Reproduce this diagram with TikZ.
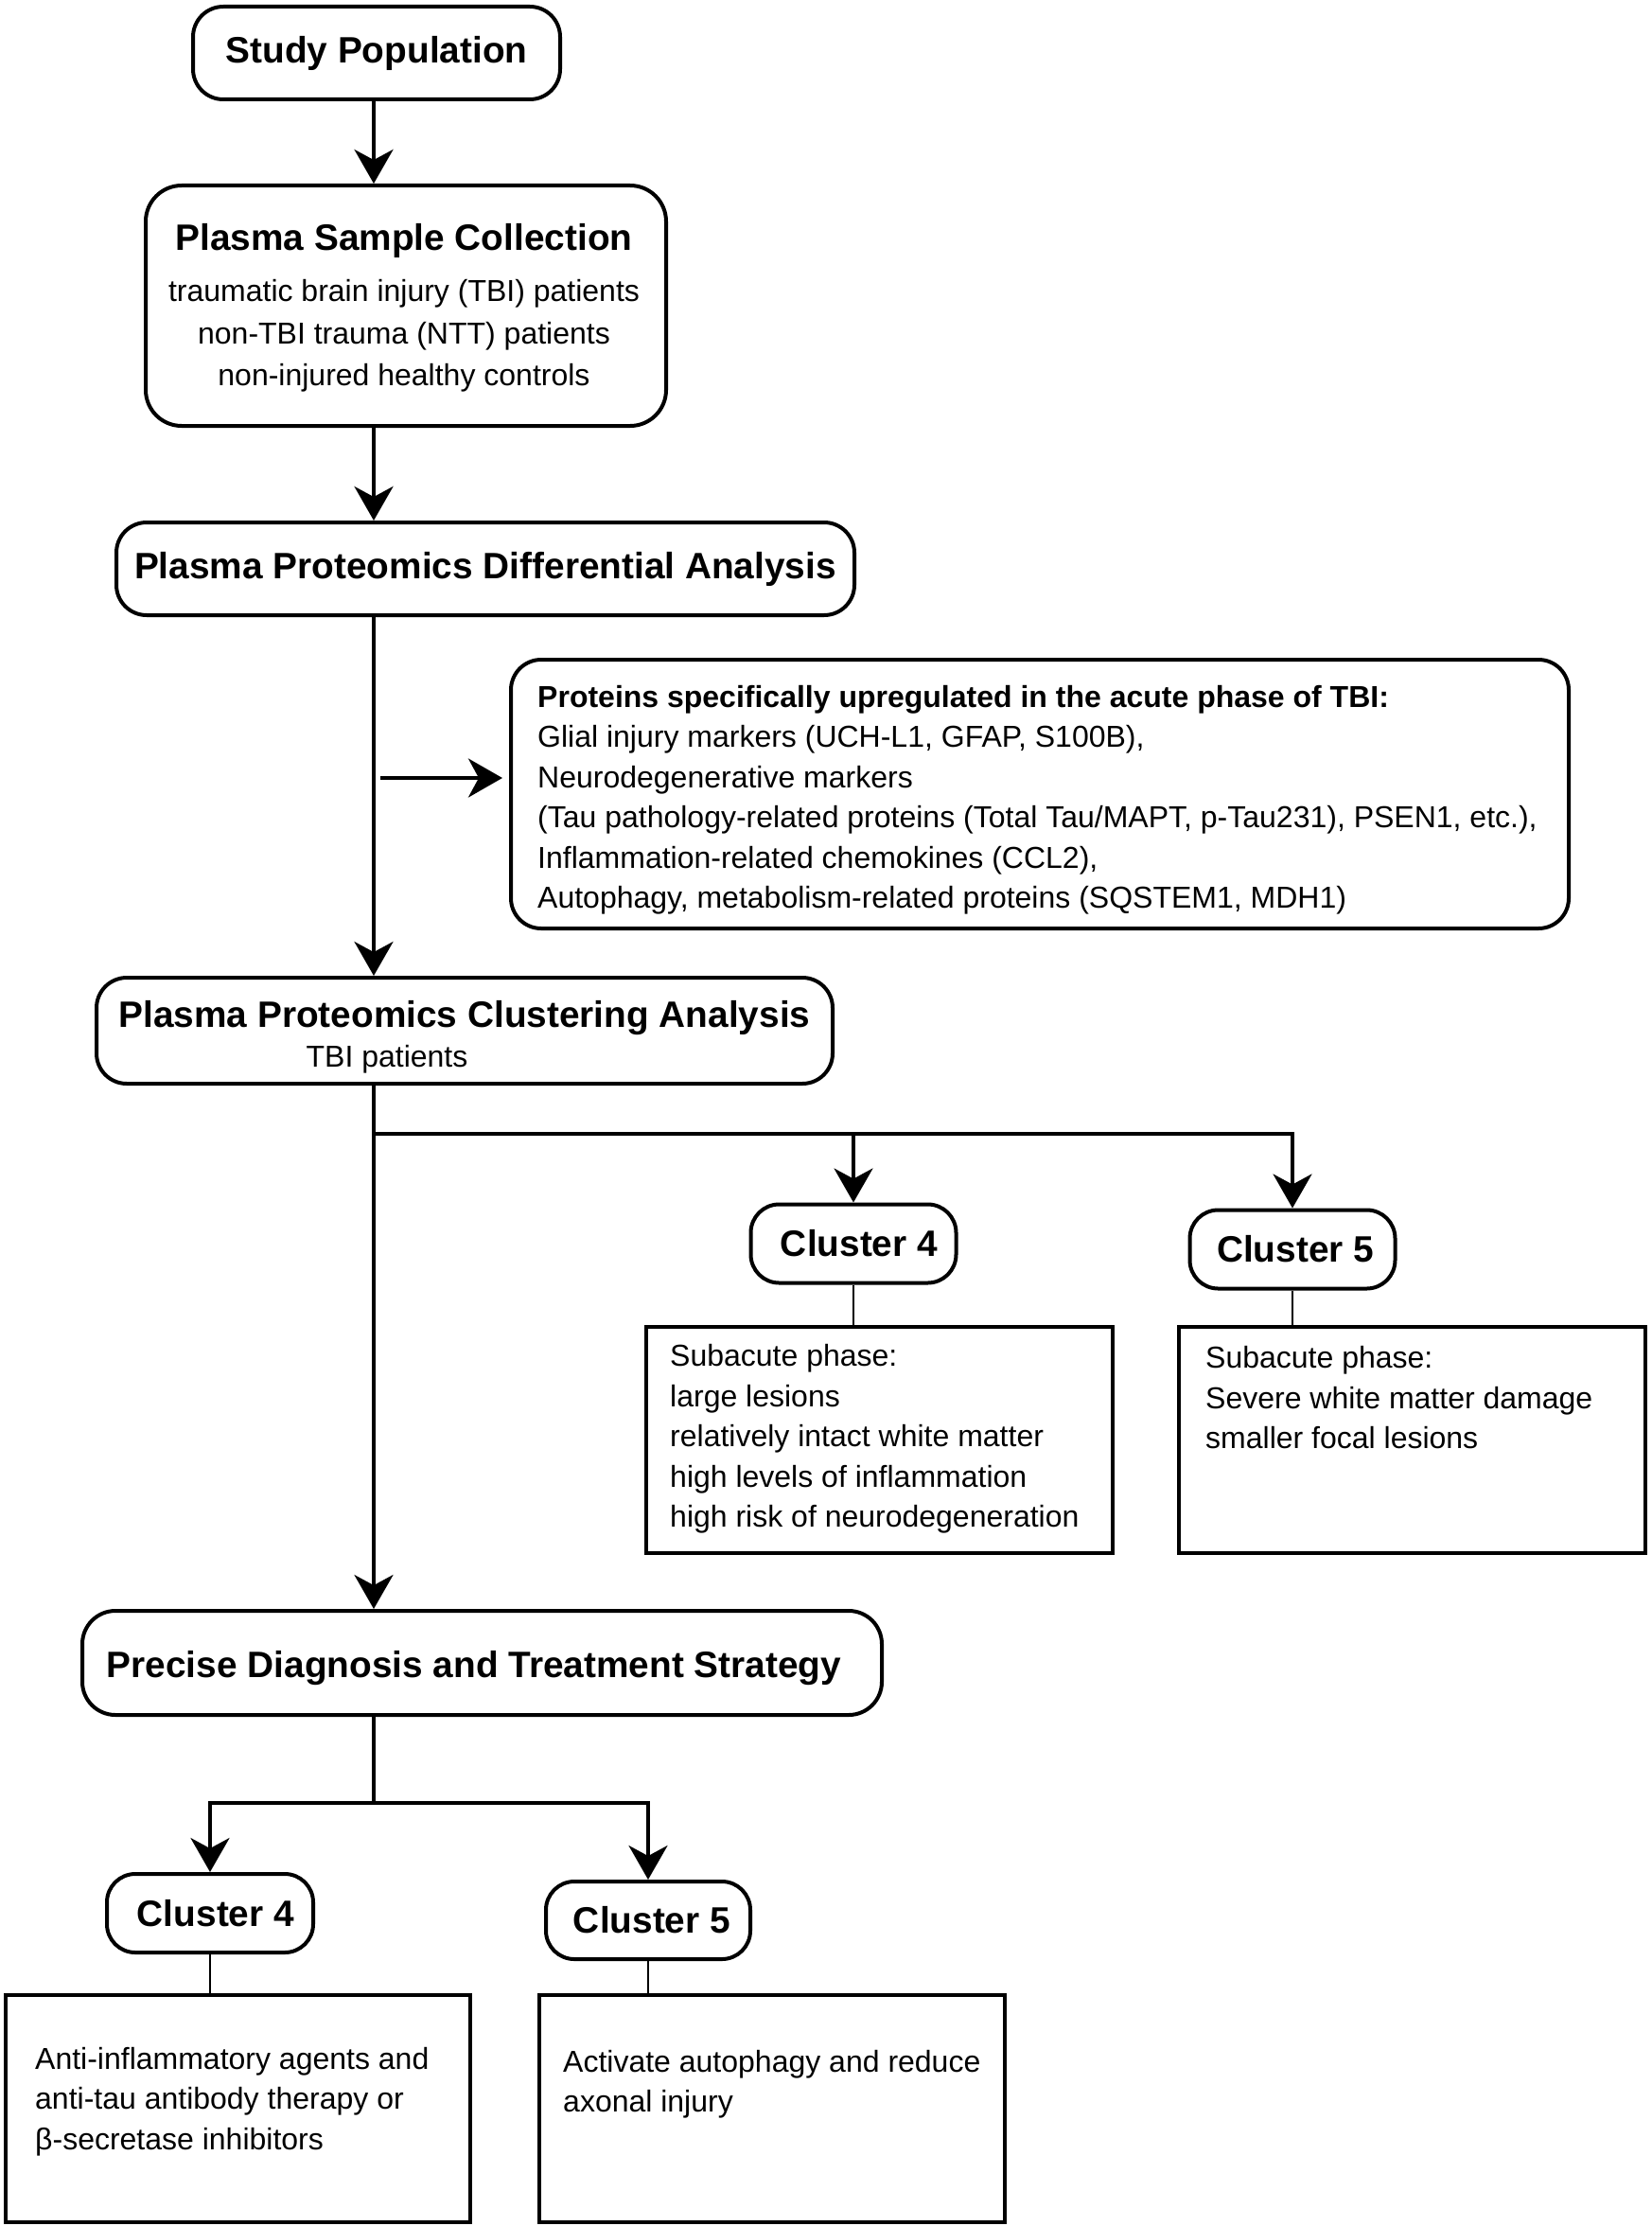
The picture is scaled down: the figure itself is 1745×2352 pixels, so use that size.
\documentclass[tikz,border=0pt]{standalone}
\usepackage{fontspec}
\setmainfont{Liberation Sans}
\usetikzlibrary{arrows.meta,calc}
\newcommand\mytitle{\fontsize{38.8pt}{46pt}\selectfont\bfseries}
\newcommand\mybody{\fontsize{32pt}{42.4pt}\selectfont}
\begin{document}
\begin{tikzpicture}[x=1pt,y=-1pt,
  rbox/.style={draw, line width=4pt, rounded corners=32pt, inner sep=0pt, align=center},
  pill/.style={rbox, rounded corners=30pt, minimum width=217pt, minimum height=83pt, font=\mytitle},
  sbox/.style={draw, line width=4pt, inner sep=0pt},
  txt/.style={inner sep=0pt, align=left, anchor=base west, font=\mybody},
  arr/.style={line width=4pt, -{Stealth[length=36pt,width=41pt,inset=11pt]}},
  conn/.style={line width=4pt},
  link/.style={line width=2.5pt}]
\useasboundingbox (0,0) rectangle (1745,2352);
\coordinate (spine) at (395,0);

% boxes (multi-line text nodes are anchored at the baseline of their last line)
\node[rbox, minimum width=388pt, minimum height=98pt, font=\mytitle] (sp) at (398,56) {Study Population};
\node[rbox, rounded corners=38pt, minimum width=550pt, minimum height=254pt] (psc) at (429,323) {};
\node[inner sep=0pt, anchor=base, align=center, font=\fontsize{32pt}{44.5pt}\selectfont] (psct) at (427,407.5)
  {{\mytitle Plasma Sample Collection}\\[10pt]
   traumatic brain injury (TBI) patients\\
   non-TBI trauma (NTT) patients\\
   non-injured healthy controls};
\node[rbox, minimum width=780pt, minimum height=98pt, font=\mytitle] (pda) at (513,601) {Plasma Proteomics Differential Analysis};

\node[rbox, minimum width=1118pt, minimum height=284pt] (prot) at (1099,839) {};
\node[txt] (prott) at (568,959.5)
  {{\bfseries Proteins specifically upregulated in the acute phase of TBI:}\\
   Glial injury markers (UCH-L1, GFAP, S100B),\\
   Neurodegenerative markers\\
   (Tau pathology-related proteins (Total Tau/MAPT, p-Tau231), PSEN1, etc.),\\
   Inflammation-related chemokines (CCL2),\\
   Autophagy, metabolism-related proteins (SQSTEM1, MDH1)};

\node[rbox, minimum width=778pt, minimum height=112pt] (pca) at (491,1089) {};
\node[inner sep=0pt, anchor=base, font=\mytitle] (pcat) at (491,1085) {Plasma Proteomics Clustering Analysis};
\node[inner sep=0pt, anchor=base, font=\mybody] (pcas) at (409,1127.5) {TBI patients};

\node[pill] (c4a) at (902,1314) {\hspace*{12pt}Cluster 4};
\node[pill] (c5a) at (1366,1320) {\hspace*{6pt}Cluster 5};

\node[sbox, minimum width=493pt, minimum height=239pt] (d4) at (929.5,1521) {};
\node[txt] (d4t) at (708,1613.5)
  {Subacute phase:\\ large lesions\\ relatively intact white matter\\ high levels of inflammation\\ high risk of neurodegeneration};
\node[sbox, minimum width=493pt, minimum height=239pt] (d5) at (1492.5,1521) {};
\node[txt] (d5t) at (1274,1530.5)
  {Subacute phase:\\ Severe white matter damage\\ smaller focal lesions};

\node[rbox, rounded corners=35pt, minimum width=845pt, minimum height=110pt] (pdt) at (509.5,1757) {};
\node[inner sep=0pt, anchor=base, font=\mytitle] (pdtt) at (501,1772) {Precise Diagnosis and Treatment Strategy};

\node[pill, minimum width=218pt] (c4b) at (222,2021.5) {\hspace*{12pt}Cluster 4};
\node[pill, minimum width=216pt, minimum height=82pt] (c5b) at (685,2029) {\hspace*{8pt}Cluster 5};

\node[sbox, minimum width=491pt, minimum height=240pt] (b4) at (251.5,2228) {};
\node[txt] (b4t) at (37,2271)
  {Anti-inflammatory agents and\\ anti-tau antibody therapy or\\ β-secretase inhibitors};
\node[sbox, minimum width=492pt, minimum height=240pt] (b5) at (816,2228) {};
\node[txt] (b5t) at (595,2231.5)
  {Activate autophagy and reduce\\ axonal injury};

% connectors
\draw[arr] (sp.south -| spine) -- (psc.north -| spine);
\draw[arr] (psc.south -| spine) -- (pda.north -| spine);
\draw[arr] (pda.south -| spine) -- (pca.north -| spine);
\coordinate (sa) at (402,822);
\coordinate (sae) at ($(sa -| prot.west)+(-7,0)$);
\draw[arr] (sa) -- (sae);

\draw[arr] (pca.south -| spine) -- (pdt.north -| spine);
\coordinate (br1) at (395,1198);
\draw[arr] (br1) -- (br1 -| c5a.north) -- (c5a.north);
\draw[arr] (br1 -| c4a.north) -- (c4a.north);
\draw[link] (c4a.south) -- (c4a.south |- d4.north);
\draw[link] (c5a.south) -- (c5a.south |- d5.north);

\coordinate (br2) at (395,1905);
\draw[conn] (pdt.south -| spine) -- (br2);
\draw[arr] (br2) -| (c4b.north);
\draw[arr] (br2) -| (c5b.north);
\draw[link] (c4b.south) -- (c4b.south |- b4.north);
\draw[link] (c5b.south) -- (c5b.south |- b5.north);
\end{tikzpicture}
\end{document}
